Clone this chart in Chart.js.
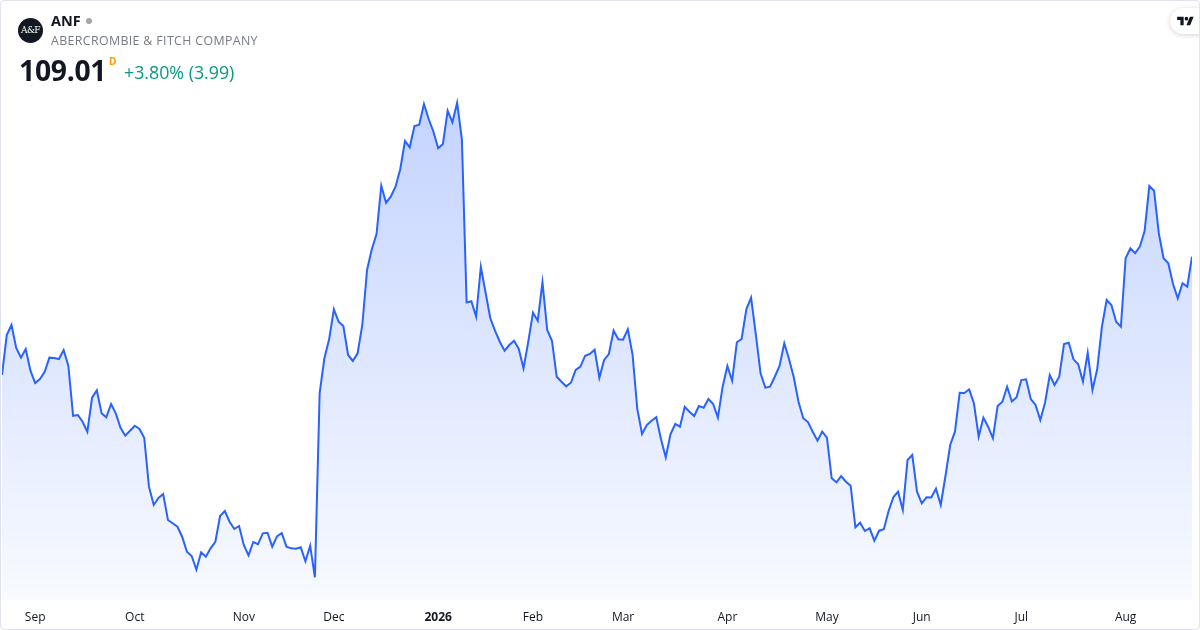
<!DOCTYPE html>
<html>
<head>
<meta charset="utf-8">
<title>ANF</title>
<script src="https://cdn.jsdelivr.net/npm/chart.js@4.4.1/dist/chart.umd.min.js"></script>
<style>
  html, body { margin: 0; padding: 0; background: #fff; }
  .card { position: relative; width: 1200px; height: 630px; overflow: hidden; font-family: "Open Sans", sans-serif; }
  .frame { position: absolute; left: 0; top: 0; width: 1200px; height: 630px; box-sizing: border-box; border: 1px solid #e0e3eb; border-radius: 4px; pointer-events: none; }
  #chartBox { position: absolute; left: 0; top: 0; width: 1200px; height: 630px; }
  .logo { position: absolute; left: 18px; top: 18px; width: 25px; height: 25px; border-radius: 50%; background: #131722; color: #fff; font-family: "DejaVu Serif", serif; font-size: 9px; line-height: 25px; text-align: center; letter-spacing: -0.6px; }
  .ticker { position: absolute; left: 51px; top: 11px; font-size: 14.5px; font-weight: 700; color: #131722; }
  .dot { display: inline-block; width: 6px; height: 6px; border-radius: 50%; background: #a3a6af; margin-left: 5px; vertical-align: 2px; }
  .name { position: absolute; left: 51px; top: 32px; font-size: 12.4px; color: #787b86; letter-spacing: 0.35px; }
  .price { position: absolute; left: 19px; top: 51px; font-size: 28.3px; font-weight: 700; color: #131722; letter-spacing: -0.3px; }
  .flag { position: absolute; left: 109px; top: 54px; font-size: 10px; font-weight: 700; color: #ff9800; }
  .change { position: absolute; left: 124px; top: 60px; font-size: 17.8px; color: #089981; }
  .tv { position: absolute; left: 1170px; top: 8px; width: 44px; height: 26px; border-radius: 13px; background: #fff; box-shadow: 0 1px 5px rgba(0, 0, 0, 0.18); }
  .tv svg { position: absolute; left: 7px; top: 7px; }
</style>
</head>
<body>
<div class="card">
  <div id="chartBox"><canvas id="priceChart" width="1200" height="630"></canvas></div>
  <div class="logo">A&amp;F</div>
  <div class="ticker">ANF<span class="dot"></span></div>
  <div class="name">ABERCROMBIE &amp; FITCH COMPANY</div>
  <div class="price">109.01</div>
  <div class="flag">D</div>
  <div class="change">+3.80% (3.99)</div>
  <div class="tv">
    <svg width="17" height="13" viewBox="0 0 36 28">
      <path d="M14 22H7V11H0V4h14v18z M28 22h-8l7.5-18h8L28 22z" fill="#131722"></path>
      <circle cx="20" cy="8" r="4" fill="#131722"></circle>
    </svg>
  </div>
  <div class="frame"></div>
</div>

<script>
// 每日收盤價 (依月份分段)
var aug2025 = [93.24, 98.57, 99.91, 96.84, 95.55, 96.71, 93.81];
var sep2025 = [92.17, 92.71, 93.68, 95.55, 95.5, 95.37, 96.57, 94.44, 87.81, 87.91, 87.01,
  85.68, 90.21, 91.2, 88.13, 87.6, 89.37, 88.13, 86.21, 85.15, 85.81];
var oct2025 = [86.48, 86.04, 84.88, 78.35, 75.91, 76.84, 77.37, 73.91, 73.47, 73.01, 71.68,
  69.68, 69.11, 67.28, 69.6, 69.01, 70.13, 71.01, 74.44, 75.11, 73.68, 72.71, 73.11];
var nov2025 = [70.57, 69.2, 70.97, 70.67, 72.13, 72.21, 70.35, 71.73, 72.17, 70.35, 70.13,
  70.08, 70.27, 68.4, 70.48, 66.27, 90.84, 95.47, 98.0];
var dec2025 = [102.0, 100.35, 99.77, 95.91, 95.11, 96.13, 99.91, 107.24, 110.0, 112.04, 118.48,
  116.21, 117.01, 118.35, 120.67, 124.44, 123.6, 126.44, 126.61, 129.37, 127.37, 125.68];
var jan2026 = [123.47, 124.04, 128.48, 126.93, 129.55, 124.67, 102.91, 103.07, 101.01, 107.68,
  104.21, 100.8, 99.11, 97.68, 96.48, 97.24, 97.81, 96.71, 94.13, 97.68];
var feb2026 = [101.55, 100.48, 105.6, 99.24, 97.81, 93.01, 92.35, 91.73, 92.21, 93.91, 94.35,
  95.81, 96.04, 96.61, 92.88, 95.24, 96.04, 99.15, 98.0];
var mar2026 = [97.95, 99.33, 95.95, 88.73, 85.37, 86.57, 87.15, 87.6, 84.67, 82.27, 85.33,
  86.71, 86.35, 89.01, 88.35, 87.77, 89.11, 88.88, 90.04, 89.37, 87.55, 91.68];
var apr2026 = [94.44, 92.48, 97.6, 98.04, 102.0, 103.55, 98.67, 93.47, 91.55, 91.68, 93.01,
  94.44, 97.47, 95.37, 92.93, 89.68, 87.47, 86.97, 85.68, 84.48, 85.7];
var may2026 = [84.88, 79.47, 78.93, 79.77, 79.01, 78.48, 72.93, 73.55, 72.44, 72.8, 71.15,
  72.48, 72.67, 75.11, 76.93, 77.68, 75.24, 81.91, 82.57, 77.68];
var jun2026 = [76.13, 76.93, 76.9, 78.08, 75.91, 79.77, 83.91, 85.68, 90.88, 90.85, 91.33,
  89.47, 85.04, 87.55, 86.35, 84.8, 89.11, 89.68, 91.68, 89.7, 90.27];
var jul2026 = [92.57, 92.67, 90.04, 89.24, 87.24, 89.55, 93.24, 91.91, 93.01, 97.37, 97.55,
  95.33, 94.67, 92.35, 96.21, 91.24, 94.0, 99.68, 103.24, 102.57, 100.35, 99.68];
var aug2026 = [108.8, 110.13, 109.47, 110.35, 112.44, 118.44, 117.81, 112.13, 108.8, 108.13,
  105.37, 103.47, 105.47, 105.02, 109.01];

// X軸月份標籤
var monthLabels = ["Sep", "Oct", "Nov", "Dec", "2026", "Feb", "Mar", "Apr", "May", "Jun", "Jul", "Aug"];
var monthData = [sep2025, oct2025, nov2025, dec2025, jan2026, feb2026, mar2026, apr2026,
  may2026, jun2026, jul2026, aug2026];
var yearLabel = "2026";

// Y軸範圍
var priceMin = 63.24;
var priceMax = 131.24;

var chartPrice;

// 組合資料與每月第一個交易日位置
var prices = aug2025.slice();
var monthStarts = [];
var labelAt = {};
monthData.forEach(function (item, key) {
  monthStarts.push(prices.length);
  labelAt[prices.length] = monthLabels[key];
  prices = prices.concat(item);
});

Chart.defaults.font.family = "'Open Sans', sans-serif";

var ctxPrice = document.getElementById("priceChart").getContext("2d");
var fillGradient = ctxPrice.createLinearGradient(0, 100, 0, 600);
fillGradient.addColorStop(0, "rgba(41, 98, 255, 0.28)");
fillGradient.addColorStop(1, "rgba(41, 98, 255, 0.03)");

chartPrice = new Chart(ctxPrice, {
  type: "line",
  data: {
    datasets: [
      {
        label: "ANF",
        data: prices.map(function (p, i) {
          return { x: i, y: p };
        }),
        borderColor: "#2962ff",
        borderWidth: 2,
        backgroundColor: fillGradient,
        fill: "start",
        pointRadius: 0,
        tension: 0,
      },
    ],
  },
  options: {
    responsive: false,
    animation: false,
    layout: { padding: { left: 2, right: 8, top: 90, bottom: 0 } },
    plugins: {
      legend: { display: false },
      tooltip: { enabled: false },
    },
    scales: {
      x: {
        type: "linear",
        min: 0,
        max: prices.length - 1,
        grid: { display: false, drawTicks: false },
        border: { display: false },
        afterBuildTicks: function (scale) {
          scale.ticks = monthStarts.map(function (v) {
            return { value: v };
          });
        },
        afterFit: function (scale) {
          scale.height = 30;
        },
        ticks: {
          autoSkip: false,
          maxRotation: 0,
          padding: 10,
          color: "#131722",
          font: function (c) {
            if (c.tick && labelAt[c.tick.value] == yearLabel) {
              return { size: 12, weight: "bold" };
            }
            return { size: 12 };
          },
          callback: function (value) {
            return labelAt[value];
          },
        },
      },
      y: {
        display: false,
        min: priceMin,
        max: priceMax,
      },
    },
  },
});
</script>
</body>
</html>
